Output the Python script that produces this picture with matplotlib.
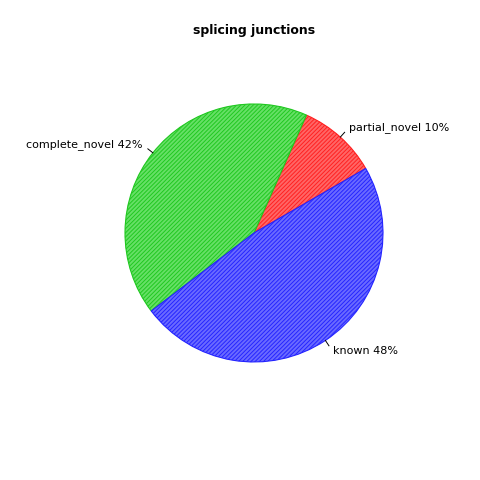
import numpy as np
import matplotlib.pyplot as plt
from matplotlib.patches import Wedge

# pie data
labels = ['partial_novel', 'complete_novel', 'known']
values = [10, 42, 48]
colors = ['#ff2020', '#20c820', '#2424ff']
faces = ['#ff6666', '#66e066', '#6a6aff']
start = 30

plt.rcParams['hatch.linewidth'] = 0.7

fig = plt.figure(figsize=(4.8, 4.8), dpi=100)
ax = fig.add_axes([0, 0, 1, 1])
ax.set_xlim(-1.969, 1.752)
ax.set_ylim(-1.915, 1.806)
ax.set_aspect('equal')
ax.axis('off')

frac = np.array(values) / sum(values) * 360
theta = start
for lab, v, f, c, fc in zip(labels, values, frac, colors, faces):
    w = Wedge((0, 0), 1, theta, theta + f, facecolor=fc, edgecolor=c,
              hatch='////////', linewidth=0.8)
    ax.add_patch(w)
    mid = np.deg2rad(theta + f / 2)
    cx, cy = np.cos(mid), np.sin(mid)
    ax.plot([cx, 1.05 * cx], [cy, 1.05 * cy], color='black', lw=0.7)
    ax.text(1.1 * cx, 1.1 * cy, f'{lab} {v}%', fontsize=8,
            ha='left' if cx > 0 else 'right', va='center')
    theta += f

fig.text(0.529, 0.937, 'splicing junctions', ha='center', va='center',
         fontsize=9, fontweight='bold')
fig.savefig('out.png', dpi=100)
